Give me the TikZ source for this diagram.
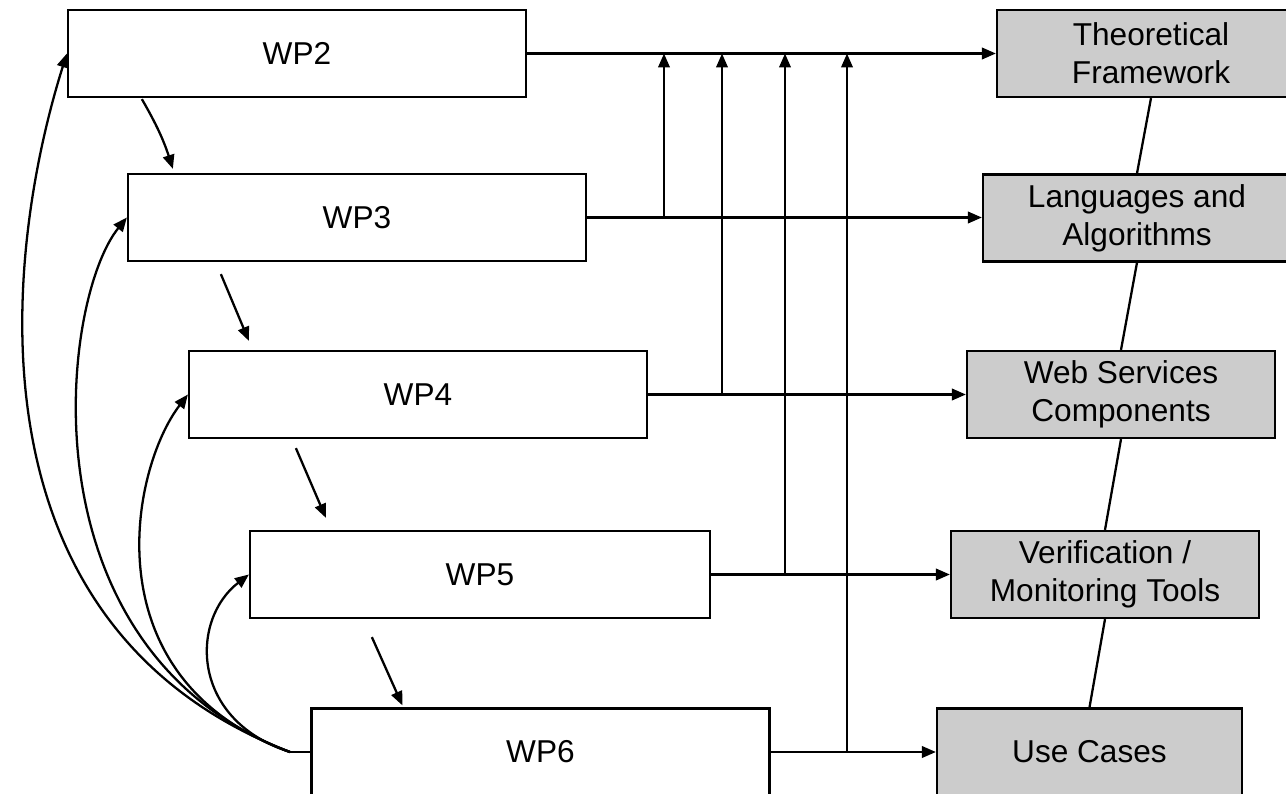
\documentclass[tikz,border=0pt]{standalone}
\usepackage{fontspec}
\setmainfont{Liberation Sans}
\usetikzlibrary{arrows.meta}
\definecolor{resgray}{RGB}{204,204,204}

\begin{document}
\begin{tikzpicture}[x=0.02cm,y=-0.02cm,line width=1.3pt,
    wpbox/.style={draw,minimum width=9.16cm,minimum height=1.74cm,inner sep=0pt,font=\fontsize{18}{21.6}\selectfont},
    resbox/.style={draw,fill=resgray,minimum width=6.16cm,minimum height=1.74cm,inner sep=0pt,align=center,font=\fontsize{18}{21.6}\selectfont},
    arr/.style={-{Triangle[length=2.8mm,width=2.3mm]}}]
          \useasboundingbox (0,0) rectangle (1286,794);
          \clip (0,0) rectangle (1286,794);
          % work packages
          \node[wpbox] at (297,53.5) (wp2) {WP2};
          \node[wpbox] at (357,217.5) (wp3) {WP3};
          \node[wpbox] at (418,394.5) (wp4) {WP4};
          \node[wpbox,minimum width=9.2cm] at (480,574.5) (wp5) {WP5};
          \node[wpbox] at (540.5,752) (wp6) {WP6};
          % results
          \node[resbox] at (1151,53.5) (tf) {Theoretical\\Framework};
          \node[resbox] at (1137,218) (la) {Languages and\\Algorithms};
          \node[resbox] at (1121,394.5) (ws) {Web Services\\Components};
          \node[resbox] at (1105,574.5) (vm) {Verification /\\Monitoring Tools};
          \node[resbox,minimum width=6.1cm] at (1089.5,752) (uc) {Use Cases};
          \path[] (tf.south) edge (la.north);
          \path[] (la.south) edge (ws.north);
          \path[] (ws.south) edge (vm.north);
          \path[] (vm.south) edge (uc.north);
          % outputs
          \path[arr] (wp2.east) edge (wp2.east -| tf.west);
          \path[arr] (wp3.east) edge (wp3.east -| la.west);
          \path[arr] (wp4.east) edge (wp4.east -| ws.west);
          \path[arr] (wp5.east) edge (wp5.east -| vm.west);
          \path[arr] (wp6.east) edge (wp6.east -| uc.west);
          \coordinate (j3) at (664,217.5);
          \coordinate (j4) at (722,394.5);
          \coordinate (j5) at (785,574.5);
          \coordinate (j6) at (847,752);
          \path[arr] (j3) edge (j3 |- wp2.east);
          \path[arr] (j4) edge (j4 |- wp2.east);
          \path[arr] (j5) edge (j5 |- wp2.east);
          \path[arr] (j6) edge (j6 |- wp2.east);
          % sequence
          \path[arr] ([xshift=1.5cm,yshift=-0.02cm]wp2.south west) edge[bend left=6] ([xshift=0.92cm,yshift=0.08cm]wp3.north west);
          \path[arr] ([xshift=1.88cm,yshift=-0.24cm]wp3.south west) edge ([xshift=1.22cm,yshift=0.18cm]wp4.north west);
          \path[arr] ([xshift=2.16cm,yshift=-0.18cm]wp4.south west) edge ([xshift=1.54cm,yshift=0.24cm]wp5.north west);
          \path[arr] ([xshift=2.46cm,yshift=-0.36cm]wp5.south west) edge ([xshift=1.84cm,yshift=0.04cm]wp6.north west);
          % feedback from WP6
          \coordinate (hub) at (290,752);
          \path[] (wp6.west) edge (hub);
          \draw[arr] (hub) .. controls (-40,625) and (5,250) .. (wp2.west);
          \draw[arr] (hub) .. controls (20,650) and (60,300) .. (wp3.west);
          \draw[arr] (hub) .. controls (90,680) and (130,470) .. (wp4.west);
          \draw[arr] (hub) .. controls (190,720) and (190,620) .. (wp5.west);
        \end{tikzpicture}
\end{document}
